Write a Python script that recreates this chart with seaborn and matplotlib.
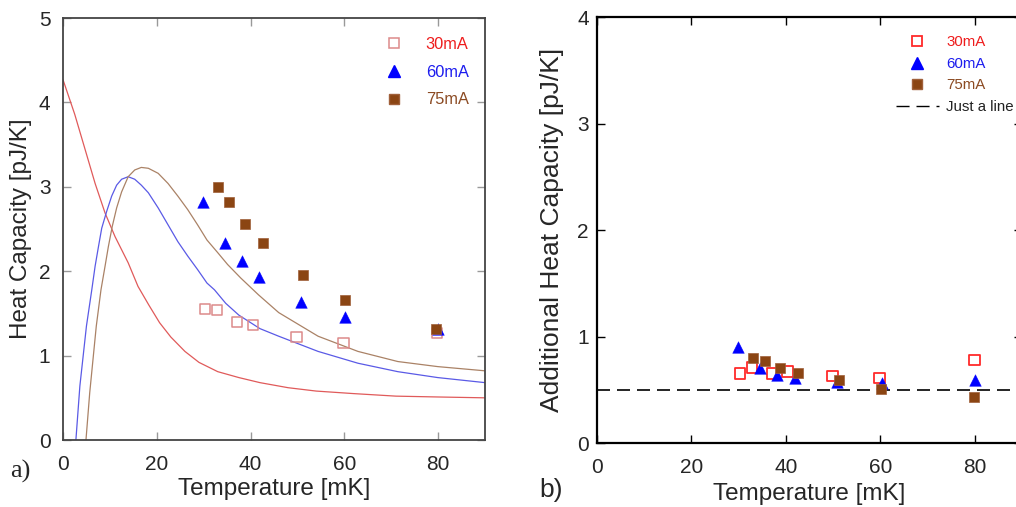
import numpy as np
import pandas as pd
import matplotlib
matplotlib.use("Agg")
import matplotlib.pyplot as plt
import seaborn as sns
from matplotlib.lines import Line2D

sns.set_style("ticks")
plt.rcParams['font.family'] = ['Liberation Sans', 'DejaVu Sans']

# ---------------- data: panel a) ----------------
t30_a = [30.3, 32.9, 37.1, 40.5, 49.8, 59.8, 79.7]
c30_a = [1.55, 1.54, 1.40, 1.36, 1.22, 1.15, 1.27]
t60_a = [29.9, 34.6, 38.1, 41.8, 50.8, 60.2, 79.9]
c60_a = [2.82, 2.34, 2.12, 1.93, 1.64, 1.46, 1.31]
t75_a = [33.05, 35.5, 38.8, 42.6, 51.2, 60.1, 79.6]
c75_a = [3.00, 2.82, 2.56, 2.34, 1.95, 1.66, 1.32]

# fitted curves
fit30_t = [0, 2.5, 4.73, 6.85, 8.97, 11.1, 13.9, 16.0, 18.3, 20.6, 23, 26, 29, 33, 37.5, 42, 48,
           54, 62, 71, 80, 90]
fit30_c = [4.27, 3.86, 3.44, 3.04, 2.69, 2.41, 2.10, 1.82, 1.60, 1.39, 1.22, 1.05, 0.92, 0.81,
           0.74, 0.68, 0.62, 0.58, 0.55, 0.52, 0.51, 0.50]
fit60_t = [2.75, 3.6, 5.0, 6.14, 6.85, 7.56, 8.26, 9.32, 10.38, 11.44, 12.5, 13.9, 15.3, 16.7,
           18.2, 20.3, 22.4, 24.5, 26.6, 28.7, 30.7, 32.3, 34.7, 37.5, 42, 46, 54.4, 62.9, 71.4,
           79.9, 90]
fit60_c = [0.0, 0.64, 1.35, 1.78, 2.06, 2.29, 2.51, 2.71, 2.89, 3.02, 3.09, 3.12, 3.09, 3.02,
           2.93, 2.75, 2.55, 2.35, 2.18, 2.02, 1.86, 1.78, 1.62, 1.48, 1.32, 1.23, 1.05, 0.91, 0.81,
           0.74, 0.68]
fit75_t = [4.9, 5.7, 7.1, 8.1, 8.97, 9.67, 10.5, 11.44, 12.5, 13.9, 15.3, 16.7, 18.2, 20.3, 22.4,
           24.5, 26.6, 28.7, 30.7, 33.0, 35.1, 37.9, 41.7, 46, 54.4, 62.9, 71.4, 79.9, 90]
fit75_c = [0.0, 0.56, 1.35, 1.78, 2.06, 2.29, 2.53, 2.75, 2.94, 3.12, 3.20, 3.23, 3.22, 3.16, 3.04,
           2.89, 2.73, 2.55, 2.37, 2.22, 2.08, 1.92, 1.72, 1.51, 1.23, 1.05, 0.93, 0.87, 0.82]

# ---------------- data: panel b) ----------------
t30_b = [30.3, 32.8, 37.1, 40.4, 49.9, 59.9, 79.9]
c30_b = [0.65, 0.71, 0.65, 0.67, 0.63, 0.61, 0.78]
t60_b = [29.95, 34.6, 38.1, 41.9, 50.9, 60.4, 80.1]
c60_b = [0.90, 0.70, 0.64, 0.61, 0.57, 0.56, 0.59]
t75_b = [33.05, 35.6, 38.8, 42.6, 51.2, 60.1, 79.8]
c75_b = [0.80, 0.77, 0.70, 0.66, 0.59, 0.51, 0.43]
line_level = 0.5

labels = ["30mA", "60mA", "75mA"]
xticks = [0, 20, 40, 60, 80]

RED_TXT, BLUE_TXT, BROWN_TXT = "#ee1c1c", "#1c1cee", "#8b4a22"
BROWN = "#8b4513"

fig = plt.figure(figsize=(10.16, 5.07), dpi=100)
axa = fig.add_axes([0.062, 0.1321, 0.4154, 0.8323])
axb = fig.add_axes([0.5876, 0.1262, 0.4183, 0.8402])

# ---- panel a ----
for t, c, col in [(fit30_t, fit30_c, "#e05a5a"), (fit60_t, fit60_c, "#5a5ae6"),
                  (fit75_t, fit75_c, "#aa8266")]:
    sns.lineplot(x=t, y=c, ax=axa, color=col, lw=0.9, sort=False, estimator=None)

sns.scatterplot(x=t30_a, y=c30_a, ax=axa, marker="s", s=55, facecolor="none",
                edgecolor="#dd8a8a", linewidth=1.1, zorder=3)
sns.scatterplot(x=t60_a, y=c60_a, ax=axa, marker="^", s=70, color="#0000ff",
                edgecolor="#0000ff", linewidth=0.3, zorder=3)
sns.scatterplot(x=t75_a, y=c75_a, ax=axa, marker="s", s=55, color=BROWN,
                edgecolor="#a0603a", linewidth=0.5, zorder=3)

axa.set_xlim(0, 90)
axa.set_ylim(0, 5)
axa.set_xticks(xticks)
axa.set_yticks([0, 1, 2, 3, 4, 5])
axa.tick_params(direction="in", top=True, right=True, length=6, width=1,
                color="#999999", labelsize=15)
axa.tick_params(axis="x", pad=11)
axa.tick_params(axis="y", pad=9)
for sp in axa.spines.values():
    sp.set_color("#444444")
    sp.set_linewidth(1.3)
axa.set_xlabel("Temperature [mK]", fontsize=17.5, labelpad=3)
axa.set_ylabel("Heat Capacity [pJ/K]", fontsize=17.5, labelpad=5)

ha = [Line2D([], [], ls="none", marker="s", ms=7, mfc="none", mec="#dd8a8a", mew=1.1),
      Line2D([], [], ls="none", marker="^", ms=8, mfc="#0000ff", mec="#0000ff"),
      Line2D([], [], ls="none", marker="s", ms=7, mfc=BROWN, mec="#a0603a")]
lega = axa.legend(ha, labels, loc="upper left", bbox_to_anchor=(0.745, 0.955),
                  frameon=False, fontsize=11.8, borderpad=0, borderaxespad=0,
                  handlelength=2.0, handletextpad=0.95, labelspacing=0.77)
for txt, col in zip(lega.get_texts(), [RED_TXT, BLUE_TXT, BROWN_TXT]):
    txt.set_color(col)

# ---- panel b ----
axb.axhline(line_level, color="black", lw=1.2, ls=(0, (7.8, 4.2)), zorder=1)
sns.scatterplot(x=t30_b, y=c30_b, ax=axb, marker="s", s=60, facecolor="none",
                edgecolor="#ff2a2a", linewidth=1.3, zorder=3)
sns.scatterplot(x=t60_b, y=c60_b, ax=axb, marker="^", s=70, color="#0000ff",
                edgecolor="#0000ff", linewidth=0.3, zorder=3)
sns.scatterplot(x=t75_b, y=c75_b, ax=axb, marker="s", s=55, color=BROWN,
                edgecolor="#a0603a", linewidth=0.5, zorder=3)
axb.set_xlim(0, 90)
axb.set_ylim(0, 4)
axb.set_xticks(xticks)
axb.set_yticks([0, 1, 2, 3, 4])
axb.tick_params(direction="in", top=True, right=True, length=6, width=1,
                color="black", labelsize=15)
axb.tick_params(axis="x", pad=11)
axb.tick_params(axis="y", pad=6)
for sp in axb.spines.values():
    sp.set_color("black")
    sp.set_linewidth(1.6)
axb.set_xlabel("Temperature [mK]", fontsize=17.5, labelpad=4)
axb.set_ylabel("Additional Heat Capacity [pJ/K]", fontsize=19, labelpad=9)

hb = [Line2D([], [], ls="none", marker="s", ms=7, mfc="none", mec="#ff2a2a", mew=1.3),
      Line2D([], [], ls="none", marker="^", ms=8, mfc="#0000ff", mec="#0000ff"),
      Line2D([], [], ls="none", marker="s", ms=7, mfc=BROWN, mec="#a0603a"),
      Line2D([], [], color="black", lw=1.0, ls=(0, (9.4, 5)))]
legb = axb.legend(hb, labels + ["Just a line"], loc="upper left",
                  bbox_to_anchor=(0.703, 0.957), frameon=False, fontsize=10.8,
                  borderpad=0, borderaxespad=0, handlelength=2.85,
                  handletextpad=0.5, labelspacing=0.5)
for txt, col in zip(legb.get_texts(), [RED_TXT, BLUE_TXT, BROWN_TXT, "#222222"]):
    txt.set_color(col)

fig.text(0.010, 0.058, "a)", fontsize=19, family=["Liberation Serif", "DejaVu Serif"])
fig.text(0.531, 0.020, "b)", fontsize=19)

fig.savefig("out.png", dpi=100)
